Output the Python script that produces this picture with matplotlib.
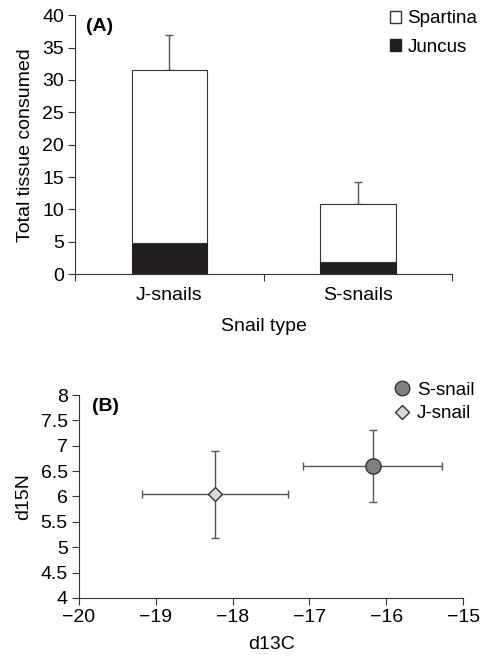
import matplotlib
matplotlib.use("Agg")
import matplotlib.pyplot as plt
from matplotlib.lines import Line2D
from matplotlib.patches import Patch

plt.rcParams['font.family'] = ['Liberation Sans', 'DejaVu Sans']

# Panel A data
snail_types = ["J-snails", "S-snails"]
juncus = [4.8, 1.8]
juncus_err = [1.6, 0.5]
spartina = [26.8, 9.1]
total_err = [5.4, 3.4]
yticks_a = [0, 5, 10, 15, 20, 25, 30, 35, 40]

# Panel B data
groups = ["S-snail", "J-snail"]
d13c = [-16.18, -18.23]
d13c_err = [0.9, 0.95]
d15n = [6.6, 6.04]
d15n_err = [0.71, 0.85]
xticks_b = [-20, -19, -18, -17, -16, -15]
yticks_b = [4, 4.5, 5, 5.5, 6, 6.5, 7, 7.5, 8]

fig = plt.figure(figsize=(4.81, 6.59), dpi=100)
fs = 14
ecol = "#555555"

# ---------- Panel A ----------
ax = fig.add_axes([0.156, 0.584, 0.784, 0.393])
xs = list(range(len(snail_types)))
totals = [j + s for j, s in zip(juncus, spartina)]
ax.bar(xs, juncus, width=0.4, color="#231f20", edgecolor="#231f20", linewidth=0.8, zorder=2)
ax.bar(xs, spartina, bottom=juncus, width=0.4, color="white", edgecolor="#333333", linewidth=0.8, zorder=2)
ax.errorbar(xs, totals, yerr=[[0]*2, total_err], fmt="none", ecolor=ecol, elinewidth=1, capsize=3, capthick=1, zorder=1)
ax.errorbar(xs, juncus, yerr=[[0]*2, juncus_err], fmt="none", ecolor=ecol, elinewidth=1, capsize=3, capthick=1, zorder=1)
ax.set_xlim(-0.5, 1.5)
ax.set_ylim(0, 40)
ax.set_yticks(yticks_a)
ax.set_xticks([-0.5, 0.5, 1.5])
ax.set_xticklabels([])
ax.set_xticks(xs, minor=True)
ax.set_xticklabels(snail_types, minor=True)
ax.tick_params(axis="x", which="minor", length=0, labelsize=fs, pad=9)
ax.tick_params(axis="x", which="major", length=5, direction="out", color="#333333")
ax.tick_params(axis="y", labelsize=fs, length=5, direction="out", color="#333333", pad=3)
for sp in ["top", "right"]:
    ax.spines[sp].set_visible(False)
for sp in ["left", "bottom"]:
    ax.spines[sp].set_color("#333333")
ax.set_ylabel("Total tissue consumed", fontsize=fs, labelpad=6)
ax.set_xlabel("Snail type", fontsize=fs, labelpad=10)
ax.text(0.03, 0.99, "(A)", transform=ax.transAxes, fontsize=fs, fontweight="bold", va="top", ha="left")
handles = [Patch(facecolor="white", edgecolor="#333333", label="Spartina"),
           Patch(facecolor="#231f20", edgecolor="#231f20", label="Juncus")]
ax.legend(handles=handles, loc="upper right", bbox_to_anchor=(1.112, 1.084), frameon=False,
          fontsize=13.5, handlelength=0.6, handleheight=0.6, handletextpad=0.35, labelspacing=0.6)

# ---------- Panel B ----------
bx = fig.add_axes([0.164, 0.0926, 0.799, 0.308])
markers = ["o", "D"]
fcols = ["#808080", "#d9d9d9"]
sizes = [11, 7.5]
hs = []
for i, g in enumerate(groups):
    bx.errorbar(d13c[i], d15n[i], xerr=d13c_err[i], yerr=d15n_err[i], fmt="none",
                ecolor=ecol, elinewidth=1, capsize=3, capthick=1, zorder=1)
    bx.plot(d13c[i], d15n[i], marker=markers[i], markersize=sizes[i], markerfacecolor=fcols[i],
            markeredgecolor="#333333", markeredgewidth=1, linestyle="none", zorder=3)
    hs.append(Line2D([], [], marker=markers[i], markersize=sizes[i] * 0.95, markerfacecolor=fcols[i],
                     markeredgecolor="#333333", linestyle="none", label=g))
bx.set_xlim(-20, -15)
bx.set_ylim(4, 8)
bx.set_xticks(xticks_b)
bx.set_xticklabels([str(t).replace("-", "\u2212") for t in xticks_b])
bx.set_yticks(yticks_b)
bx.set_yticklabels([f"{t:g}" for t in yticks_b])
bx.tick_params(labelsize=fs, length=5, direction="out", color="#333333", pad=3)
for sp in ["top", "right"]:
    bx.spines[sp].set_visible(False)
for sp in ["left", "bottom"]:
    bx.spines[sp].set_color("#333333")
bx.set_xlabel("d13C", fontsize=fs, labelpad=7)
bx.set_ylabel("d15N", fontsize=fs, labelpad=6)
bx.text(0.035, 0.985, "(B)", transform=bx.transAxes, fontsize=fs, fontweight="bold", va="top", ha="left")
bx.legend(handles=hs, loc="upper right", bbox_to_anchor=(1.073, 1.15), frameon=False, fontsize=13.5,
          handlelength=0.8, handletextpad=0.4, labelspacing=0.35)

fig.savefig("out.png", dpi=100)
